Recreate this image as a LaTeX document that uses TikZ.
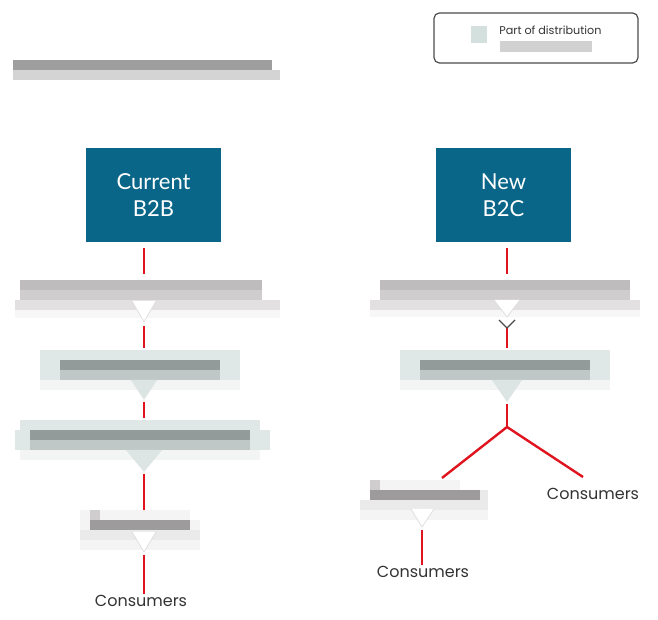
\documentclass[tikz,border=0pt]{standalone}
\usepackage{fontspec}
\setmainfont{Lato}
\newfontfamily\popfont{Poppins}
\definecolor{boxblue}{HTML}{0A6688}
\definecolor{lred}{HTML}{E0141E}
\definecolor{txtgray}{HTML}{333333}
\definecolor{legswatch}{HTML}{D3E0DD}
\definecolor{gA}{HTML}{BEBCBD}
\definecolor{gB}{HTML}{CFCDCE}
\definecolor{gC}{HTML}{E2E0E1}
\definecolor{gD}{HTML}{F7F7F7}
\definecolor{tA}{HTML}{E0E8E7}
\definecolor{tDark}{HTML}{939B9A}
\definecolor{tMid}{HTML}{BFC8C6}
\definecolor{tL}{HTML}{F2F5F4}
\definecolor{tP}{HTML}{DCE5E3}
\definecolor{wA}{HTML}{F4F4F4}
\definecolor{wDark}{HTML}{9D9B9C}
\definecolor{wB}{HTML}{EBEAEA}
\begin{document}
\begin{tikzpicture}[x=0.75pt,y=-0.75pt,
  mainbox/.style={fill=boxblue, text=white, minimum width=101.25pt, minimum height=70.5pt,
    inner sep=0pt, align=center, font=\fontsize{16.5}{20}\selectfont},
  redline/.style={draw=lred, line width=1.8pt},
  cons/.style={font=\popfont\fontsize{12}{14}\selectfont, text=txtgray, inner sep=1pt},
  ptr/.style={fill=white, draw=gray!25, line width=0.6pt}
]
\useasboundingbox (0,0) rectangle (658,620);

% title (blurred)
\fill[black!38] (13,60) rectangle (272,70);
\fill[black!17] (13,70) rectangle (280,80);

% legend
\draw[draw=black!70, line width=0.9pt, rounded corners=4pt] (434,13) rectangle (638,63);
\fill[legswatch] (471,26) rectangle (487,43);
\node[anchor=west, font=\popfont\fontsize{8.4}{10}\selectfont, text=txtgray, inner sep=0pt] (legtxt) at (499,30) {Part of distribution};
\fill[black!18] (500,41) rectangle (592,52);

% main boxes
\node[mainbox] (cur) at (153.5,195) {Current\\B2B};
\node[mainbox] (new) at (503.5,195) {New\\B2C};

% anchor coordinates of the blurred boxes
\coordinate (L1t) at (144,274);
\coordinate (L1b) at (144,326);
\coordinate (L2t) at (144,348);
\coordinate (L2b) at (144,402);
\coordinate (L3t) at (144,418);
\coordinate (L3b) at (144,474);
\coordinate (L4t) at (144,510);
\coordinate (L4b) at (144,555);
\coordinate (R1t) at (507,274);
\coordinate (R1b) at (507,328);
\coordinate (R2t) at (507,348);
\coordinate (R2b) at (507,404);
\coordinate (J) at (507,427);
\coordinate (R3t) at (442,478);
\coordinate (R3b) at (422,530);
\coordinate (RC2e) at (583,477);

\node[cons] (LC) at (141,601) {Consumers};
\node[cons] (RC1) at (423,572) {Consumers};
\node[cons] (RC2) at (593,494) {Consumers};

% connectors
\draw[redline, shorten <=4.5pt] (cur.south -| L1t) -- (L1t);
\draw[redline] (L1b) -- (L2t);
\draw[redline] (L2b) -- (L3t);
\draw[redline] (L3b) -- (L4t);
\draw[redline] (L4b) -- (LC.north -| L4b);
\draw[redline, shorten <=4.5pt] (new.south -| R1t) -- (R1t);
\draw[redline] (R1b) -- (R2t);
\draw[redline] (R2b) -- (J);
\draw[redline] (J) -- (R3t);
\draw[redline] (J) -- (RC2e);
\draw[redline] (R3b) -- (RC1.north -| R3b);

% ---- left column blurred boxes ----
% L1 (not part)
\fill[gA] (20,280) rectangle (262,290);
\fill[gB] (20,290) rectangle (262,300);
\fill[gC] (15,300) rectangle (280,310);
\fill[gD] (15,310) rectangle (280,318);
\filldraw[ptr] (132,301) -- (144,322) -- (156,301);
% L2 (part)
\fill[tA] (40,350) rectangle (240,390);
\fill[tDark] (60,360) rectangle (220,370);
\fill[tMid] (60,370) rectangle (220,380);
\fill[tL] (40,380) rectangle (240,390);
\fill[tP] (131,380) -- (157,380) -- (144,400) -- cycle;
% L3 (part)
\fill[tA] (20,420) rectangle (260,430);
\fill[tA] (15,430) rectangle (270,450);
\fill[tDark] (30,430) rectangle (250,440);
\fill[tMid] (30,440) rectangle (250,450);
\fill[tL] (20,450) rectangle (260,460);
\fill[tP] (126,450) -- (162,450) -- (144,472) -- cycle;
% L4 (not part)
\fill[wA] (80,510) rectangle (190,520);
\fill[gB] (90,510) rectangle (100,520);
\fill[wA] (80,520) rectangle (200,530);
\fill[wDark] (90,520) rectangle (190,530);
\fill[wB] (80,530) rectangle (200,540);
\fill[wA] (80,540) rectangle (200,550);
\filldraw[ptr] (132,532) -- (144,552) -- (156,532);

% ---- right column blurred boxes ----
% R1 (not part)
\fill[gA] (380,280) rectangle (630,290);
\fill[gB] (380,290) rectangle (630,300);
\fill[gC] (370,300) rectangle (640,310);
\fill[gD] (370,310) rectangle (640,317);
\filldraw[ptr] (494,300) -- (507,317) -- (520,300);
\draw[black!70, line width=0.9pt] (499,320) -- (507,328) -- (515,320);
% R2 (part)
\fill[tA] (400,350) rectangle (610,390);
\fill[tDark] (420,360) rectangle (590,370);
\fill[tMid] (420,370) rectangle (590,380);
\fill[tL] (400,380) rectangle (610,390);
\fill[tP] (492,380) -- (522,380) -- (507,402) -- cycle;
% R3 (not part)
\fill[wA] (370,480) rectangle (460,490);
\fill[gB] (370,480) rectangle (380,490);
\fill[wDark] (370,490) rectangle (480,500);
\fill[wB] (480,490) rectangle (488,500);
\fill[wB] (360,500) rectangle (488,510);
\fill[wA] (360,510) rectangle (488,520);
\filldraw[ptr] (411,509) -- (422,527) -- (434,509);
\end{tikzpicture}
\end{document}
